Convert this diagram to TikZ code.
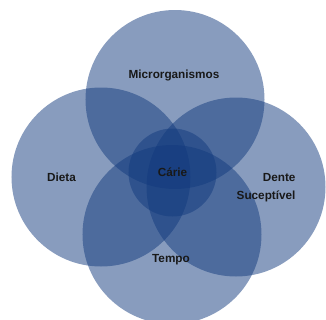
\documentclass[tikz,border=0pt]{standalone}
\usepackage{fontspec}
\setmainfont{Liberation Sans}

\definecolor{vennblue}{RGB}{18,58,125}

\tikzset{
  venn/.style={fill=vennblue, fill opacity=0.5, draw=none},
  factor/.style={font=\fontsize{11.8}{18}\selectfont\bfseries, text=black!90}
}

\begin{document}
\begin{tikzpicture}[x=1bp, y=-1bp]

    % Keep the page the same size as the image
    \useasboundingbox (0,0) rectangle (326,320);

    % Centres of the four big circles and the small middle one
    \coordinate (M) at (175, 99.5);     % Microrganismos
    \coordinate (D) at (101, 177);      % Dieta
    \coordinate (S) at (236, 187);      % Dente suceptivel
    \coordinate (T) at (172, 234.5);    % Tempo
    \coordinate (C) at (172.5, 172.5);  % Carie

    % Draw the overlapping circles
    \fill[venn] (M) circle[radius=89.5bp];
    \fill[venn] (D) circle[radius=89.5bp];
    \fill[venn] (S) circle[radius=89.5bp];
    \fill[venn] (T) circle[radius=89.5bp];
    \fill[venn] (C) circle[radius=44bp];

    % Labels of the factors
    \node[factor] (micro) at (174, 75) {Microrganismos};
    \node[factor] (dieta) at (61.5, 177) {Dieta};
    \node[factor, align=right, anchor=east] (dente) at (299, 188) {Dente\\Suceptível};
    \node[factor] (tempo) at (171, 260) {Tempo};

    % Label in the middle
    \node[factor] (carie) at (172.5, 172) {Cárie};

\end{tikzpicture}
\end{document}
